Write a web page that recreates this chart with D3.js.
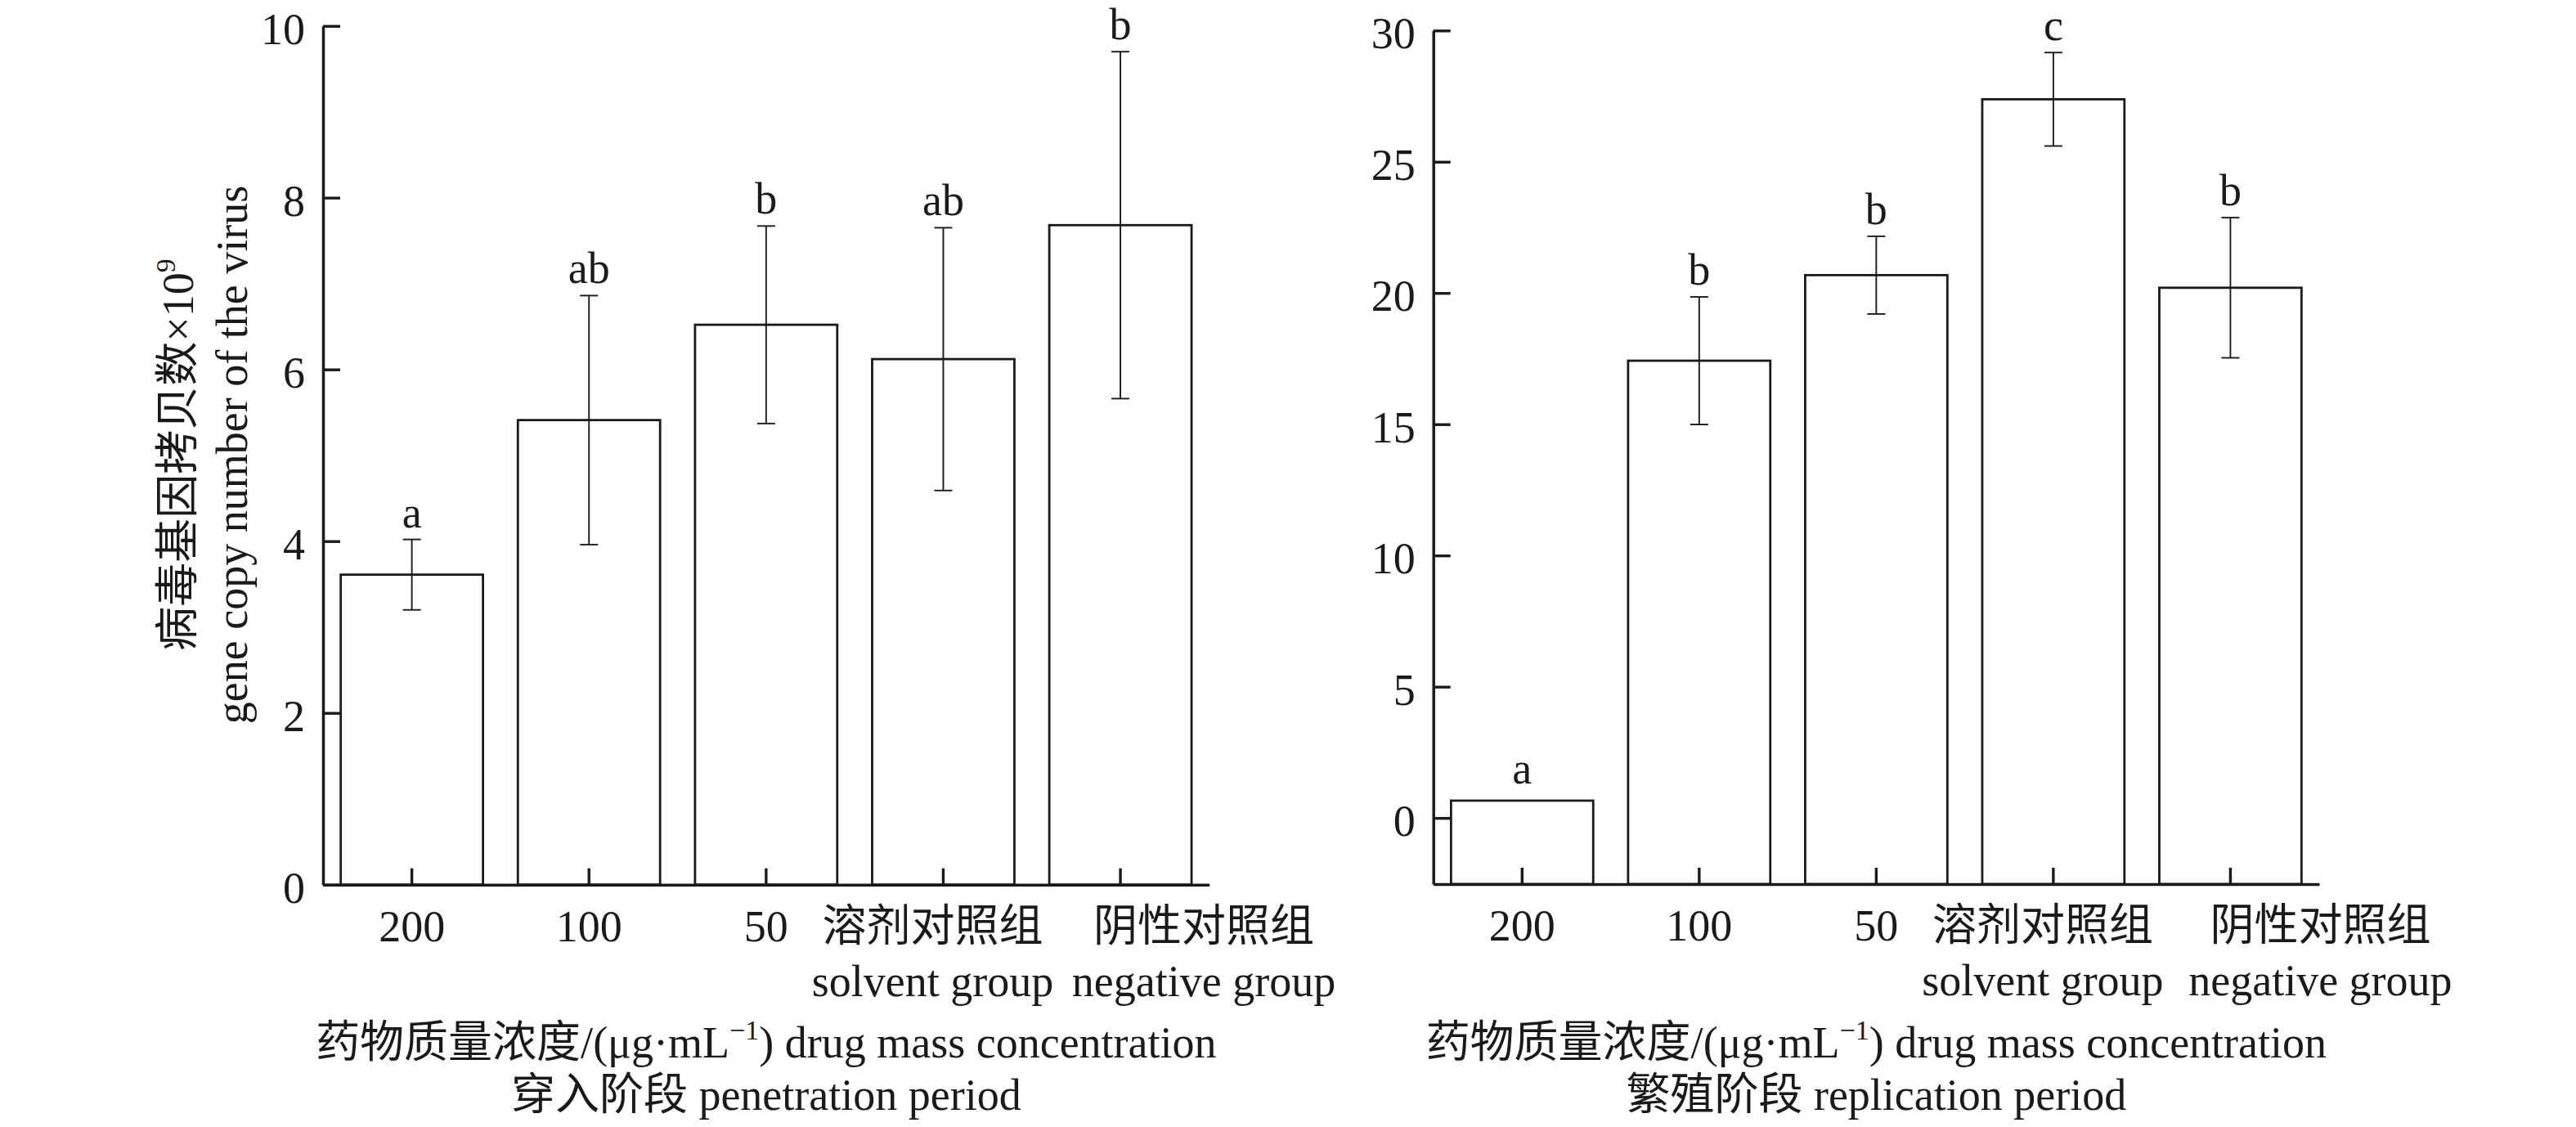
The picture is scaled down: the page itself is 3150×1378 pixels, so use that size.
<!DOCTYPE html>
<html>
<head>
<meta charset="utf-8">
<script src="https://cdnjs.cloudflare.com/ajax/libs/d3/7.8.5/d3.min.js"></script>
<style>
  html, body { margin: 0; padding: 0; background: #fff; }
  svg { display: block; }
  text { font-family: "Liberation Serif", "Noto Sans CJK SC", serif; fill: #1a1a1a; }
</style>
</head>
<body>
<svg id="chart" width="3150" height="1378"></svg>
<script>
// ---------- data ----------
const categories = ["200", "100", "50", "溶剂对照组", "阴性对照组"];
const categoriesEn = ["", "", "", "solvent group", "negative group"];

const penetrationValues  = [3.61, 5.41, 6.52, 6.12, 7.68];
const penetrationErrors  = [0.41, 1.45, 1.15, 1.53, 2.02];
const penetrationLetters = ["a", "ab", "b", "ab", "b"];
const penetrationTicks   = [0, 2, 4, 6, 8, 10];

const replicationValues  = [0.66, 17.42, 20.68, 27.38, 20.20];
const replicationErrors  = [0, 2.43, 1.48, 1.78, 2.67];
const replicationLetters = ["a", "b", "b", "c", "b"];
const replicationTicks   = [0, 5, 10, 15, 20, 25, 30];

const yTitleZh = "病毒基因拷贝数×10";
const yTitleSup = "9";
const yTitleEn = "gene copy number of the virus";
const xTitleZh = "药物质量浓度/(μg·mL";
const xTitleSup = "−1";
const xTitleRest = ") drug mass concentration";
const penetrationTitle = "穿入阶段 penetration period";
const replicationTitle = "繁殖阶段 replication period";

// ---------- layout ----------
const FS = 54;
const INK = "#1a1a1a";
const svg = d3.select("#chart");

function drawPanel(opt) {
  const x = d3.scaleBand().domain(categories).range([opt.x0, opt.x1])
    .paddingInner(0.197).paddingOuter(0.1);
  const y = d3.scaleLinear().domain(opt.domain).range([opt.yBottom, opt.yTop]);
  const g = svg.append("g");
  const labelShift = [0, 0, 0, -13, opt.negShift];

  // bars
  const data = categories.map((c, i) => ({ c, i, v: opt.values[i], e: opt.errors[i], l: opt.letters[i] }));
  g.selectAll("rect.bar").data(data).enter().append("rect")
    .attr("class", "bar")
    .attr("x", d => x(d.c))
    .attr("y", d => y(d.v))
    .attr("width", x.bandwidth())
    .attr("height", d => y(opt.domain[0]) - y(d.v))
    .attr("fill", "#fff")
    .attr("stroke", INK)
    .attr("stroke-width", 2.8);

  // error bars
  const eb = g.selectAll("g.err").data(data.filter(d => d.e > 0)).enter().append("g")
    .attr("class", "err")
    .attr("transform", d => `translate(${x(d.c) + x.bandwidth() / 2},0)`)
    .attr("stroke", INK).attr("stroke-width", 1.9);
  eb.append("line").attr("x1", 0).attr("x2", 0)
    .attr("y1", d => y(d.v - d.e)).attr("y2", d => y(d.v + d.e));
  eb.append("line").attr("x1", -11).attr("x2", 11)
    .attr("y1", d => y(d.v + d.e)).attr("y2", d => y(d.v + d.e));
  eb.append("line").attr("x1", -11).attr("x2", 11)
    .attr("y1", d => y(d.v - d.e)).attr("y2", d => y(d.v - d.e));

  // significance letters
  g.selectAll("text.sig").data(data).enter().append("text")
    .attr("class", "sig")
    .attr("x", d => x(d.c) + x.bandwidth() / 2)
    .attr("y", d => y(d.v + d.e) - (d.e > 0 ? 15 : 21))
    .attr("text-anchor", "middle")
    .attr("font-size", FS)
    .text(d => d.l);

  // y axis
  const ya = g.append("g").attr("transform", `translate(${opt.x0},0)`)
    .call(d3.axisLeft(y).tickValues(opt.ticks).tickSize(-21).tickSizeOuter(0).tickPadding(22));
  ya.select(".domain").attr("stroke", INK).attr("stroke-width", 3.5);
  ya.selectAll(".tick line").attr("stroke", INK).attr("stroke-width", 3.4);
  ya.selectAll(".tick text").attr("font-size", FS).attr("font-family", null)
    .attr("fill", INK).attr("dy", "0.40em");

  // x axis
  const xa = g.append("g").attr("transform", `translate(0,${opt.yBottom})`)
    .call(d3.axisBottom(x).tickSize(-20).tickSizeOuter(0).tickPadding(31));
  xa.select(".domain").attr("stroke", INK).attr("stroke-width", 3.5);
  xa.selectAll(".tick line").attr("stroke", INK).attr("stroke-width", 3.4);
  xa.selectAll(".tick text").each(function (d, i) {
    const t = d3.select(this);
    t.text(null).attr("font-size", FS).attr("font-family", null).attr("fill", INK);
    t.append("tspan").attr("x", labelShift[i]).text(categories[i]);
    if (categoriesEn[i]) {
      t.append("tspan").attr("x", labelShift[i]).attr("dy", 67).text(categoriesEn[i]);
    }
  });

  // x titles
  const cx = (opt.x0 + opt.x1) / 2;
  const t1 = g.append("text").attr("x", cx).attr("y", 1293)
    .attr("text-anchor", "middle").attr("font-size", FS);
  t1.append("tspan").text(xTitleZh);
  t1.append("tspan").attr("font-size", 34).attr("dy", -22).text(xTitleSup);
  t1.append("tspan").attr("dy", 22).text(xTitleRest);
  g.append("text").attr("x", cx).attr("y", 1357)
    .attr("text-anchor", "middle").attr("font-size", FS).text(opt.title);
}

drawPanel({
  x0: 395, x1: 1478.7, yTop: 31.7, yBottom: 1081.7, domain: [0, 10],
  values: penetrationValues, errors: penetrationErrors, letters: penetrationLetters,
  ticks: penetrationTicks, title: penetrationTitle, negShift: 102
});
drawPanel({
  x0: 1752.7, x1: 2836, yTop: 37.3, yBottom: 1081, domain: [-2.52, 30],
  values: replicationValues, errors: replicationErrors, letters: replicationLetters,
  ticks: replicationTicks, title: replicationTitle, negShift: 110
});

// y title (left panel)
const yt = svg.append("g").attr("transform", "translate(0,556) rotate(-90)");
const l1 = yt.append("text").attr("x", 0).attr("y", 236).attr("text-anchor", "middle").attr("font-size", FS);
l1.append("tspan").text(yTitleZh);
l1.append("tspan").attr("font-size", 34).attr("dy", -22).text(yTitleSup);
yt.append("text").attr("x", 0).attr("y", 302).attr("text-anchor", "middle").attr("font-size", FS).text(yTitleEn);
</script>
</body>
</html>
